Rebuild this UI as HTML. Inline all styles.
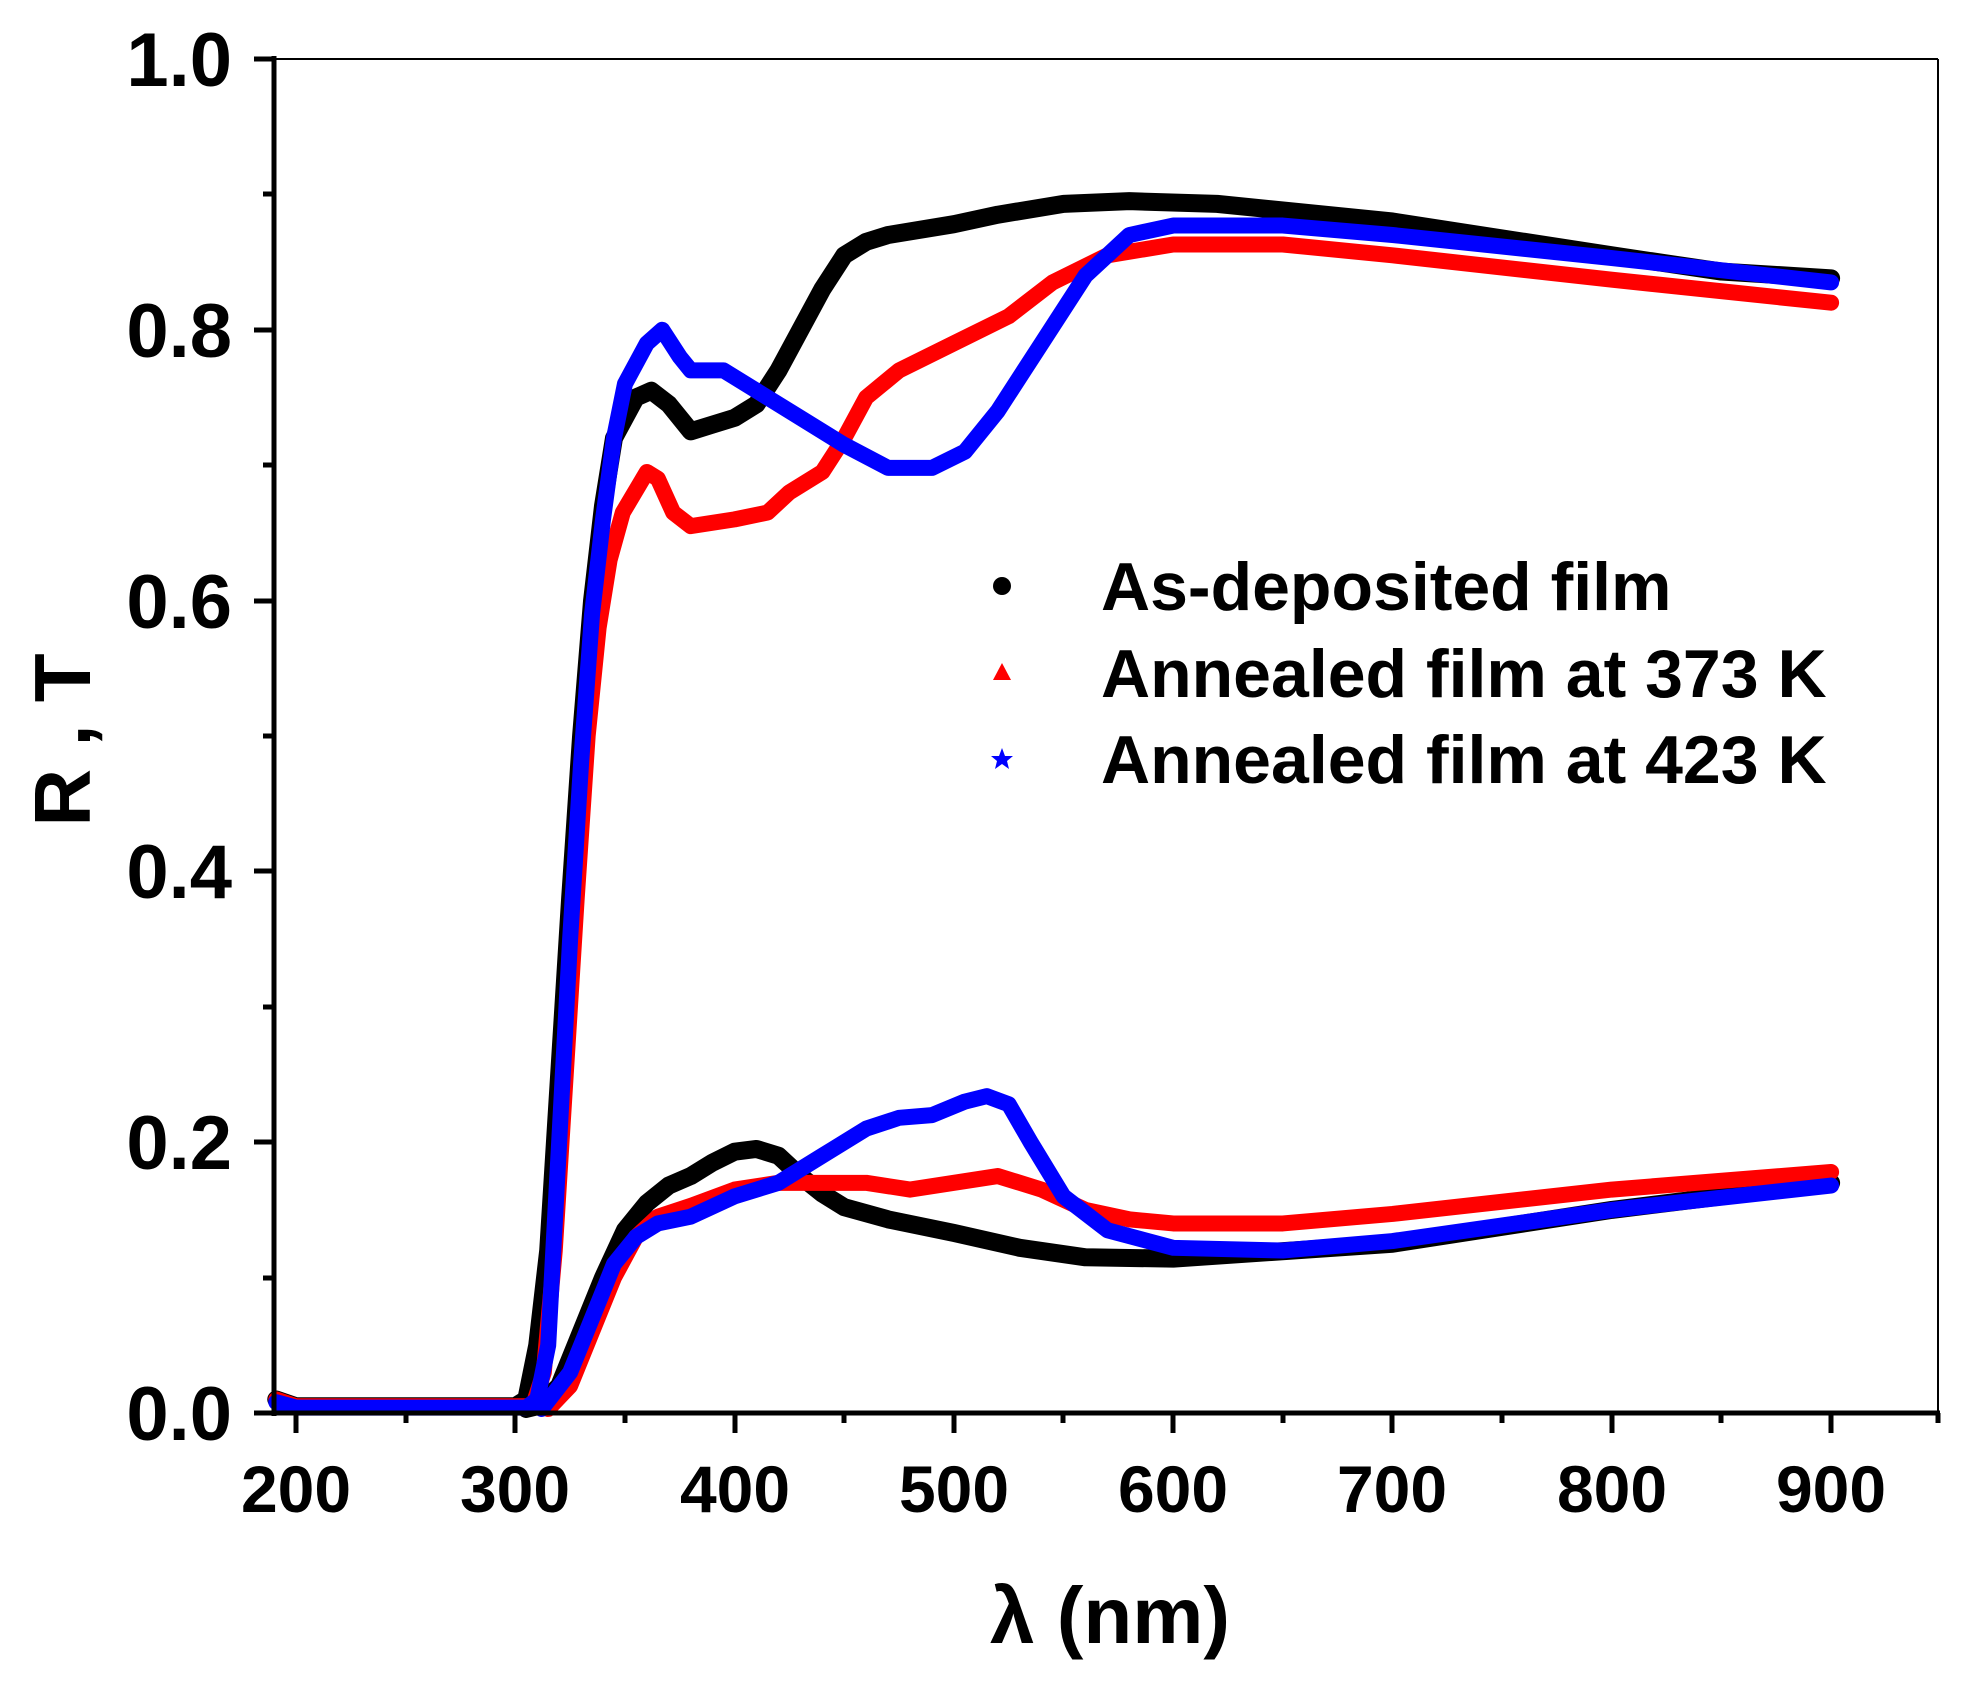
<!DOCTYPE html>
<html><head><meta charset="utf-8"><style>
html,body{margin:0;padding:0;background:#fff;}
svg{display:block;}
text{font-family:"Liberation Sans",Arial,sans-serif;font-weight:bold;fill:#000;}
</style></head><body>
<svg width="1973" height="1685" viewBox="0 0 1973 1685" xmlns="http://www.w3.org/2000/svg">
<rect width="1973" height="1685" fill="#fff"/>
<line x1="274" y1="59" x2="1938" y2="59" stroke="#000" stroke-width="2"/>
<line x1="1938" y1="59" x2="1938" y2="1413" stroke="#000" stroke-width="2"/>
<g transform="translate(-142.6,1413) scale(2.193,-1354)" fill="none" stroke-linejoin="round" stroke-linecap="round">
<polyline vector-effect="non-scaling-stroke" stroke="#000" stroke-width="18" points="191,0.01 200,0.005 300,0.005 305,0.01 310,0.05 315,0.12 320,0.25 325,0.38 330,0.5 335,0.6 340,0.67 345,0.72 355,0.75 362,0.755 370,0.745 380,0.725 390,0.73 400,0.735 410,0.745 420,0.77 430,0.8 440,0.83 450,0.855 460,0.865 470,0.87 500,0.878 520,0.885 550,0.893 580,0.895 620,0.893 700,0.88 800,0.855 850,0.843 900,0.838"/>
<polyline vector-effect="non-scaling-stroke" stroke="#000" stroke-width="18" points="305,0.003 310,0.005 320,0.02 330,0.06 340,0.1 350,0.135 360,0.155 370,0.168 380,0.175 390,0.185 400,0.193 410,0.195 420,0.19 430,0.175 440,0.162 450,0.152 470,0.143 500,0.133 530,0.122 560,0.115 600,0.114 700,0.125 800,0.15 900,0.17"/>
<polyline vector-effect="non-scaling-stroke" stroke="#f00" stroke-width="16" points="191,0.01 200,0.005 308,0.005 313,0.03 318,0.12 323,0.25 328,0.38 333,0.5 338,0.58 343,0.63 349,0.665 360,0.695 365,0.69 372,0.665 380,0.655 400,0.66 415,0.665 425,0.68 440,0.695 450,0.72 460,0.75 475,0.77 500,0.79 525,0.81 545,0.835 570,0.855 600,0.863 650,0.863 700,0.855 800,0.837 900,0.82"/>
<polyline vector-effect="non-scaling-stroke" stroke="#f00" stroke-width="16" points="315,0.003 325,0.02 335,0.06 345,0.1 355,0.13 365,0.145 380,0.153 400,0.165 420,0.17 460,0.17 480,0.165 500,0.17 520,0.175 540,0.165 560,0.15 580,0.143 600,0.14 650,0.14 700,0.147 800,0.165 900,0.178"/>
<polyline vector-effect="non-scaling-stroke" stroke="#00f" stroke-width="16" points="191,0.008 200,0.004 305,0.004 310,0.01 315,0.05 320,0.2 325,0.35 330,0.48 335,0.59 340,0.66 345,0.72 350,0.76 360,0.79 367,0.8 375,0.78 380,0.77 395,0.77 410,0.755 430,0.735 450,0.715 470,0.698 490,0.698 505,0.71 520,0.74 540,0.79 560,0.84 580,0.87 600,0.877 650,0.877 700,0.87 800,0.853 900,0.835"/>
<polyline vector-effect="non-scaling-stroke" stroke="#00f" stroke-width="16" points="312,0.003 325,0.03 335,0.07 345,0.11 355,0.13 365,0.14 380,0.145 400,0.16 420,0.17 440,0.19 460,0.21 475,0.218 490,0.22 505,0.23 515,0.234 525,0.228 535,0.2 550,0.16 570,0.135 600,0.122 650,0.12 700,0.127 800,0.15 900,0.168"/>
</g>
<line x1="274" y1="56" x2="274" y2="1416" stroke="#000" stroke-width="5"/>
<line x1="271" y1="1413" x2="1940" y2="1413" stroke="#000" stroke-width="5"/>
<g stroke="#000" stroke-width="5">
<line x1="254" y1="59" x2="274" y2="59"/><line x1="254" y1="330" x2="274" y2="330"/><line x1="254" y1="601" x2="274" y2="601"/><line x1="254" y1="871" x2="274" y2="871"/><line x1="254" y1="1142" x2="274" y2="1142"/><line x1="254" y1="1413" x2="274" y2="1413"/>
<line x1="263" y1="194" x2="274" y2="194"/><line x1="263" y1="465" x2="274" y2="465"/><line x1="263" y1="736" x2="274" y2="736"/><line x1="263" y1="1007" x2="274" y2="1007"/><line x1="263" y1="1278" x2="274" y2="1278"/>
<line x1="296" y1="1413" x2="296" y2="1433"/><line x1="515" y1="1413" x2="515" y2="1433"/><line x1="735" y1="1413" x2="735" y2="1433"/><line x1="954" y1="1413" x2="954" y2="1433"/><line x1="1173" y1="1413" x2="1173" y2="1433"/><line x1="1392" y1="1413" x2="1392" y2="1433"/><line x1="1612" y1="1413" x2="1612" y2="1433"/><line x1="1831" y1="1413" x2="1831" y2="1433"/>
<line x1="406" y1="1413" x2="406" y2="1423"/><line x1="625" y1="1413" x2="625" y2="1423"/><line x1="844" y1="1413" x2="844" y2="1423"/><line x1="1063" y1="1413" x2="1063" y2="1423"/><line x1="1283" y1="1413" x2="1283" y2="1423"/><line x1="1502" y1="1413" x2="1502" y2="1423"/><line x1="1721" y1="1413" x2="1721" y2="1423"/><line x1="1938" y1="1413" x2="1938" y2="1423"/>
</g>
<g font-size="76" text-anchor="end">
<text x="232" y="86">1.0</text><text x="232" y="357">0.8</text><text x="232" y="628">0.6</text><text x="232" y="898">0.4</text><text x="232" y="1169">0.2</text><text x="232" y="1440">0.0</text>
</g>
<g font-size="66" text-anchor="middle">
<text x="296" y="1512">200</text><text x="515" y="1512">300</text><text x="735" y="1512">400</text><text x="954" y="1512">500</text><text x="1173" y="1512">600</text><text x="1392" y="1512">700</text><text x="1612" y="1512">800</text><text x="1831" y="1512">900</text>
</g>
<text x="1110" y="1643" font-size="80" text-anchor="middle">λ (nm)</text>
<text transform="translate(90,740) rotate(-90)" font-size="80" text-anchor="middle">R , T</text>
<circle cx="1002" cy="586" r="9" fill="#000"/>
<polygon points="1002,663 993,680 1011,680" fill="#f00"/>
<polygon points="1002,748 1005,756 1013,756 1007,761 1009,769 1002,764 995,769 997,761 991,756 999,756" fill="#00f"/>
<g font-size="68">
<text x="1101" y="610">As-deposited film</text>
<text x="1101" y="697">Annealed film at 373 K</text>
<text x="1101" y="783">Annealed film at 423 K</text>
</g>
</svg>
</body></html>
